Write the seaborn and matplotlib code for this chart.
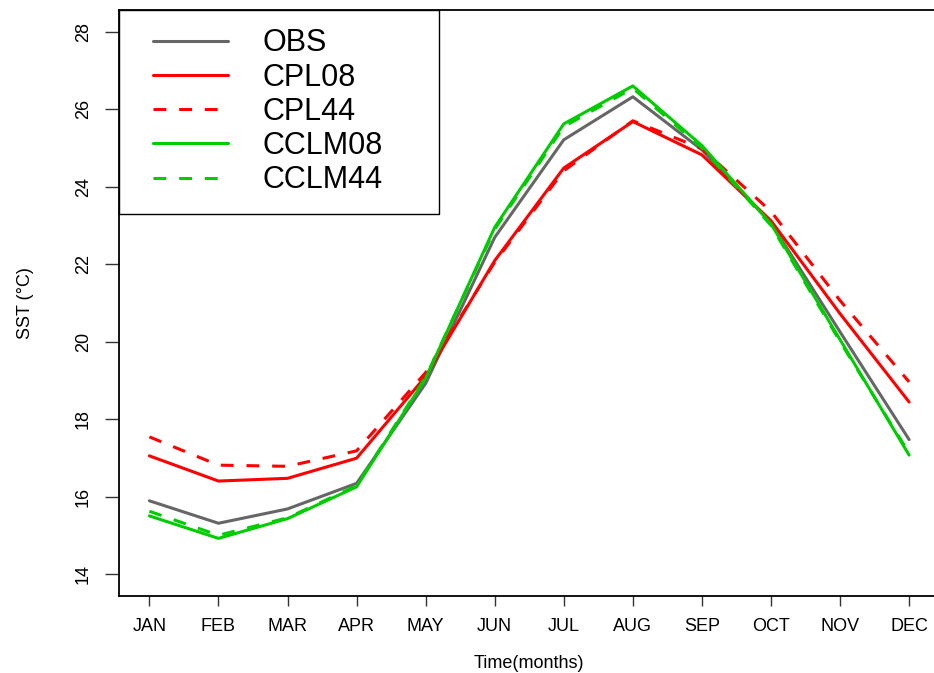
import matplotlib
matplotlib.use("Agg")
import matplotlib.pyplot as plt
import seaborn as sns
import pandas as pd
from matplotlib.lines import Line2D
from matplotlib.legend_handler import HandlerLine2D

months = ["JAN", "FEB", "MAR", "APR", "MAY", "JUN", "JUL", "AUG", "SEP", "OCT", "NOV", "DEC"]
month_num = list(range(1, 13))

obs    = [15.89, 15.31, 15.68, 16.34, 18.92, 22.69, 25.21, 26.32, 24.95, 23.06, 20.25, 17.47]
cpl08  = [17.05, 16.40, 16.47, 16.99, 19.10, 22.09, 24.48, 25.68, 24.82, 23.12, 20.72, 18.44]
cpl44  = [17.54, 16.81, 16.78, 17.18, 19.20, 22.05, 24.41, 25.70, 24.98, 23.36, 21.06, 18.96]
cclm08 = [15.50, 14.92, 15.43, 16.25, 19.05, 22.95, 25.62, 26.60, 25.06, 23.04, 20.05, 17.07]
cclm44 = [15.62, 15.00, 15.45, 16.28, 19.08, 22.90, 25.55, 26.54, 25.00, 23.00, 20.00, 17.12]

series_names = ["OBS", "CPL08", "CPL44", "CCLM08", "CCLM44"]
series_values = [obs, cpl08, cpl44, cclm08, cclm44]
yticks = [14, 16, 18, 20, 22, 24, 26, 28]

df = pd.DataFrame({
    "month": month_num * len(series_names),
    "sst": [v for vals in series_values for v in vals],
    "model": [n for n in series_names for _ in month_num],
})

palette = {"OBS": "#666666", "CPL08": "#FF0000", "CPL44": "#FF0000",
           "CCLM08": "#00CD00", "CCLM44": "#00CD00"}
dashes = {"OBS": "", "CPL08": "", "CPL44": (4.2, 4.2),
          "CCLM08": "", "CCLM44": (4.2, 4.2)}

sns.set_theme(style="ticks")
plt.rcParams["font.family"] = ["Liberation Sans", "DejaVu Sans"]
plt.rcParams["text.color"] = "black"
plt.rcParams["axes.labelcolor"] = "black"

fig = plt.figure(figsize=(9.34, 6.73), dpi=100)
W, H = 934, 673
x0, x1, y0, y1 = 119, 939.5, 10, 595.7
ax = fig.add_axes([x0 / W, (H - y1) / H, (x1 - x0) / W, (y1 - y0) / H])

sns.lineplot(data=df, x="month", y="sst", hue="model", style="model",
             hue_order=series_names, style_order=series_names,
             palette=palette, dashes=dashes, linewidth=2.2, ax=ax, legend=True)

ax.set_xlim(0.56, 12.44)
ax.set_ylim(13.44, 28.56)
ax.set_xticks(month_num)
ax.set_xticklabels(months)
ax.set_yticks(yticks)
ax.set_yticklabels([str(t) for t in yticks], rotation=90, va="center")

for s in ax.spines.values():
    s.set_color("black")
    s.set_linewidth(1.3)
    s.set_visible(True)

ax.tick_params(axis="x", length=7.2, width=1.0, color="#333333", pad=9,
               labelsize=13, labelcolor="black")
ax.tick_params(axis="y", length=10, width=1.0, color="#333333", pad=9.5,
               labelsize=13, labelcolor="black")

ax.set_xlabel("Time(months)", fontsize=13, color="black")
ax.set_ylabel("SST (\u00b0C)", fontsize=13, color="black")
ax.xaxis.set_label_coords(0.5, (y1 - 655) / (y1 - y0))
ax.yaxis.set_label_coords((34 - x0) / (x1 - x0), 0.5)

handles, labels = ax.get_legend_handles_labels()
fs_px = 22 * 100 / 72
bp = 0.6
pad_px = bp * fs_px
leg = ax.legend(handles, labels, loc="upper left",
                bbox_to_anchor=(0, 1, 320 / (x1 - x0), 0), mode="expand",
                borderaxespad=0, fontsize=22, frameon=True, fancybox=False,
                edgecolor="black", framealpha=1, borderpad=bp,
                handlelength=(109 - pad_px) / fs_px, handletextpad=1.14,
                labelspacing=0.14, labelcolor="black",
                handler_map={Line2D: HandlerLine2D(xpad=(34 - pad_px) / fs_px)})
leg.get_frame().set_linewidth(1.0)

fig.savefig("out.png", dpi=100)
